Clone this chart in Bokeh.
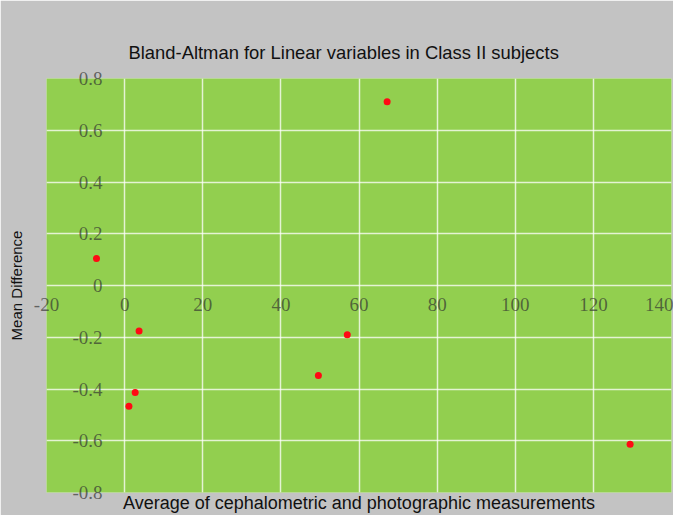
from bokeh.plotting import figure
from bokeh.models import Range1d, FixedTicker, LinearAxis
from bokeh.embed import file_html
from bokeh.resources import INLINE

# Data
avg_values = [-7.2, 1.1, 2.7, 3.7, 49.6, 57.0, 67.2, 129.4]
mean_diff = [0.104, -0.467, -0.414, -0.176, -0.348, -0.19, 0.71, -0.614]

x_ticks = [-20, 0, 20, 40, 60, 80, 100, 120, 140]
x_tick_labels = ["-20", "0", "20", "40", "60", "80", "100", "120", "140"]
y_ticks = [-0.8, -0.6, -0.4, -0.2, 0, 0.2, 0.4, 0.6, 0.8]
y_tick_labels = ["-0.8", "-0.6", "-0.4", "-0.2", "0", "0.2", "0.4", "0.6", "0.8"]

title_text = "Bland-Altman for Linear variables in Class II subjects"
x_label = "Average of cephalometric and photographic measurements"
y_label = "Mean Difference"

GRAY = "#c3c3c3"
GREEN = "#92cf4f"

p = figure(width=673, height=515, output_backend="svg", toolbar_location=None,
           x_range=Range1d(-20, 140), y_range=Range1d(-0.8, 0.8),
           x_axis_location=None, y_axis_location=None,
           min_border_left=46, min_border_right=2, min_border_top=78, min_border_bottom=22)

p.background_fill_color = GREEN
p.border_fill_color = GRAY
p.outline_line_color = None

# Title
p.title.text = title_text
p.title.align = "left"
p.title.offset = 82
p.title.text_font = "Liberation Sans"
p.title.text_font_size = "18.4px"
p.title.text_font_style = "normal"
p.title.text_color = "#111111"
p.title.standoff = 31

# Axes: tick labels drawn inside the frame (as in the reference)
xaxis = LinearAxis(ticker=FixedTicker(ticks=x_ticks),
                   major_label_overrides={t: l for t, l in zip(x_ticks, x_tick_labels)},
                   axis_label=x_label)
yaxis = LinearAxis(ticker=FixedTicker(ticks=y_ticks),
                   major_label_overrides={t: l for t, l in zip(y_ticks, y_tick_labels)},
                   axis_label=y_label)
for ax in (xaxis, yaxis):
    ax.axis_line_color = None
    ax.major_tick_line_color = None
    ax.minor_tick_line_color = None
    ax.major_tick_out = 0
    ax.major_tick_in = 0
    ax.major_label_text_font = "Liberation Serif"
    ax.major_label_text_font_size = "19px"
    ax.major_label_text_color = "#303030"
    ax.major_label_text_alpha = 0.68
    ax.axis_label_text_font = "Liberation Sans"
    ax.axis_label_text_font_style = "normal"
    ax.axis_label_text_color = "#111111"
xaxis.major_label_standoff = -195
xaxis.axis_label_standoff = 179
xaxis.axis_label_text_font_size = "18px"
yaxis.major_label_standoff = -56
yaxis.axis_label_standoff = 44
yaxis.axis_label_text_font_size = "15px"
p.add_layout(xaxis, "below")
p.add_layout(yaxis, "left")

# Grid
p.xgrid.ticker = FixedTicker(ticks=x_ticks)
p.ygrid.ticker = FixedTicker(ticks=y_ticks)
for g in (p.xgrid, p.ygrid):
    g.grid_line_color = "white"
    g.grid_line_alpha = 0.75
    g.grid_line_width = 1.5

p.scatter(avg_values, mean_diff, size=7, fill_color="#ff0a14", line_color=None)

open("out.html", "w").write(file_html(p, INLINE))
